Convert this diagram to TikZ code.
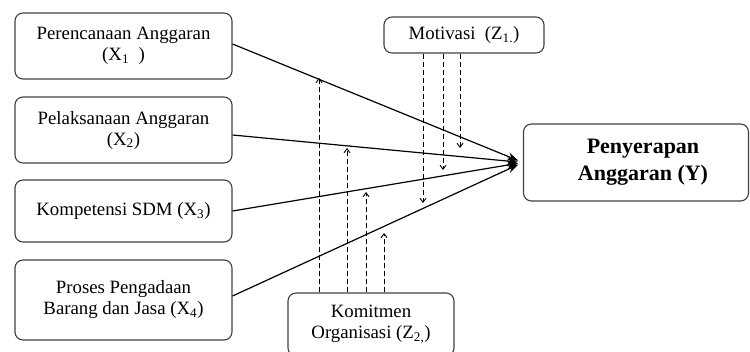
\documentclass[tikz,border=0pt]{standalone}
\usepackage{fontspec}
\setmainfont{Liberation Serif}
\usetikzlibrary{arrows.meta}
\begin{document}
\begin{tikzpicture}[x=1pt,y=-1pt,
  box/.style={draw=black!75, line width=1.1pt, rounded corners=8pt, align=center, inner sep=0pt, font=\fontsize{18.8}{21}\selectfont},
  rel/.style={line width=1.2pt, -{Stealth[length=11pt,width=8pt]}, shorten >=5pt},
  modl/.style={line width=0.9pt, dash pattern=on 5pt off 3pt, -{Straight Barb[length=4pt,width=6pt]}}]
\useasboundingbox (0,0) rectangle (750,351);
\clip (0,0) rectangle (750,351);
\node[box, minimum width=217pt, minimum height=66pt] (x1) at (123.5,46) {Perencanaan Anggaran\\(X\textsubscript{1}~~)};
\node[box, minimum width=217pt, minimum height=66pt] (x2) at (123.5,130) {Pelaksanaan Anggaran\\(X\textsubscript{2})};
\node[box, minimum width=217pt, minimum height=62pt] (x3) at (123.5,211) {Kompetensi SDM (X\textsubscript{3})};
\node[box, minimum width=217pt, minimum height=80pt] (x4) at (123.5,300) {Proses Pengadaan\\Barang dan Jasa (X\textsubscript{4})};
\node[box, minimum width=160pt, minimum height=36pt] (mot) at (464,35) {Motivasi~ (Z\textsubscript{1.})};
\node[box, minimum width=166pt, minimum height=63pt] (kom) at (371,324.5) {Komitmen\\Organisasi (Z\textsubscript{2,})};
\node[box, minimum width=225pt, minimum height=77pt, font=\bfseries\fontsize{22}{27}\selectfont] (y) at (636,162.5) {\hspace*{14pt}Penyerapan\\\hspace*{14pt}Anggaran (Y)};
\draw[rel] ([yshift=2pt]x1.east) -- (y.west);
\draw[rel] ([yshift=-5pt]x2.east) -- (y.west);
\draw[rel] (x3.east) -- (y.west);
\draw[rel] ([yshift=4pt]x4.east) -- (y.west);
\coordinate (m1) at (423,203);
\coordinate (m2) at (443,170);
\coordinate (m3) at (460,148);
\draw[modl] (m1 |- mot.south) -- (m1);
\draw[modl] (m2 |- mot.south) -- (m2);
\draw[modl] (m3 |- mot.south) -- (m3);
\coordinate (k1) at (319,78);
\coordinate (k2) at (347,148);
\coordinate (k3) at (366,192);
\coordinate (k4) at (384,233);
\draw[modl] (k1 |- kom.north) -- (k1);
\draw[modl] (k2 |- kom.north) -- (k2);
\draw[modl] (k3 |- kom.north) -- (k3);
\draw[modl] (k4 |- kom.north) -- (k4);
\end{tikzpicture}
\end{document}
